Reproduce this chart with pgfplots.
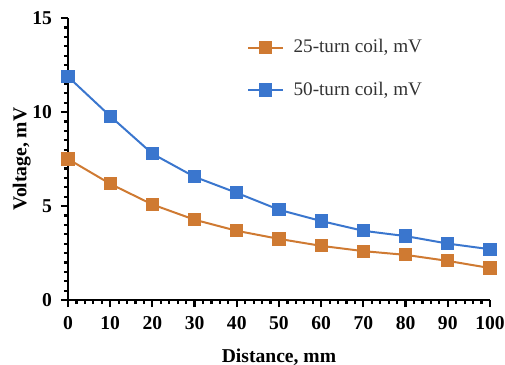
\documentclass[border=0pt]{standalone}
\usepackage{pgfplots}
\pgfplotsset{compat=1.18}
\usepackage{fontspec}
\setmainfont{Liberation Serif}
\definecolor{cOrange}{RGB}{207,122,50}
\definecolor{cBlue}{RGB}{58,118,206}
\begin{document}
\begin{tikzpicture}
\path[use as bounding box] (-34pt,-32.5pt) rectangle (218.5pt,150pt);
\begin{axis}[
  at={(0,0)}, anchor=south west,
  scale only axis, width=211pt, height=141pt,
  xmin=0, xmax=100, ymin=0, ymax=15,
  axis lines*=left,
  axis line style={line width=1.2pt, black, -},
  xtick={0,10,...,100}, ytick={0,5,10,15},
  minor xtick={0,2,...,100}, minor ytick={0,0.5,...,15},
  tick align=outside,
  major tick length=3.5pt, minor tick length=2pt,
  every tick/.style={black, line width=1.1pt},
  tick label style={font=\fontsize{9.8}{11}\selectfont\bfseries},
  /pgf/number format/assume math mode=true,
  xticklabel style={yshift=-1pt},
  yticklabel style={xshift=-1pt},
  xlabel={Distance, mm}, ylabel={Voltage, mV},
  label style={font=\fontsize{9.8}{11}\selectfont\bfseries},
  xlabel style={yshift=-3pt},
  ylabel style={yshift=-6pt},
  clip=false,
  legend style={draw=none, fill=none, at={(axis cs:41,14.3)}, anchor=north west,
    font=\fontsize{9.6}{11}\selectfont, text=black!80, row sep=9pt,
    legend cell align=left, /tikz/every odd column/.append style={column sep=3pt}},
  legend image code/.code={
    \draw[#1, mark repeat=2, mark phase=2] plot coordinates {(0cm,0cm) (0.3cm,0cm) (0.6cm,0cm)};},
]
\addplot[cOrange, line width=1pt, mark=square*, mark size=2.8pt, mark options={solid}]
 coordinates {(0,7.5) (10,6.18) (20,5.08) (30,4.27) (40,3.68) (50,3.25) (60,2.88) (70,2.6) (80,2.4) (90,2.08) (100,1.7)};
\addlegendentry{25-turn coil, mV}
\addplot[cBlue, line width=1pt, mark=square*, mark size=2.8pt, mark options={solid}]
 coordinates {(0,11.88) (10,9.78) (20,7.78) (30,6.55) (40,5.7) (50,4.8) (60,4.2) (70,3.68) (80,3.4) (90,3.0) (100,2.7)};
\addlegendentry{50-turn coil, mV}
\end{axis}
\end{tikzpicture}
\end{document}
